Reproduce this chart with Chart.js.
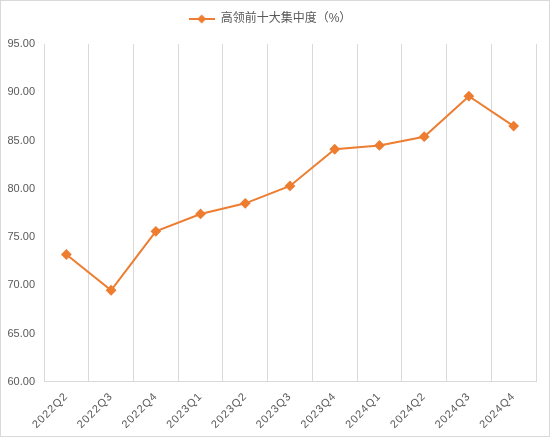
<!DOCTYPE html>
<html>
<head>
<meta charset="utf-8">
<script src="https://cdn.jsdelivr.net/npm/chart.js@4"></script>
<style>
  html, body { margin: 0; padding: 0; background: #fff; }
  #wrap { width: 548px; height: 435px; border: 1px solid #d9d9d9; }
</style>
</head>
<body>
<div id="wrap"><canvas id="c"></canvas></div>
<script>
var quarters = ['2022Q2', '2022Q3', '2022Q4', '2023Q1', '2023Q2', '2023Q3', '2023Q4', '2024Q1', '2024Q2', '2024Q3', '2024Q4'];
var concentration = [73.2, 69.5, 75.6, 77.4, 78.5, 80.3, 84.1, 84.5, 85.4, 89.6, 86.5];
var seriesName = '高领前十大集中度（%）';
var yMin = 60, yMax = 95, yStep = 5;

var orange = '#ED7D31';
var fontFamily = '"Liberation Sans", "Noto Sans CJK SC", sans-serif';

// legend icon: short line with a diamond in the middle
var icon = document.createElement('canvas');
icon.width = 26; icon.height = 12;
var ic = icon.getContext('2d');
ic.strokeStyle = orange; ic.lineWidth = 2;
ic.beginPath(); ic.moveTo(0, 6); ic.lineTo(26, 6); ic.stroke();
ic.fillStyle = orange;
ic.beginPath(); ic.moveTo(13, 1.5); ic.lineTo(17.5, 6); ic.lineTo(13, 10.5); ic.lineTo(8.5, 6); ic.closePath(); ic.fill();

// a bit more room under the legend, and spaced-out x labels
var tweaks = {
    id: 'tweaks',
    beforeInit: function (chart) {
        var fit = chart.legend.fit;
        chart.legend.fit = function () {
            fit.call(this);
            this.height += 9;
        };
    },
    afterUpdate: function (chart) {
        var xs = chart.scales.x;
        if (xs._spaced) return;
        xs._spaced = true;
        var draw = xs.drawLabels;
        xs.drawLabels = function (area) {
            var ctx = this.ctx;
            var prev = ctx.letterSpacing;
            ctx.letterSpacing = '1px';
            draw.call(this, area);
            ctx.letterSpacing = prev;
        };
    }
};

new Chart(document.getElementById('c').getContext('2d'), {
    type: 'line',
    data: {
        labels: quarters,
        datasets: [{
            label: seriesName,
            data: concentration,
            borderColor: orange,
            backgroundColor: orange,
            borderWidth: 2,
            pointStyle: 'rectRot',
            pointRadius: 4,
            pointBackgroundColor: orange,
            pointBorderColor: orange,
            tension: 0,
            fill: false
        }]
    },
    options: {
        responsive: true,
        maintainAspectRatio: false,
        animation: false,
        layout: { padding: { left: 3, right: 13, top: 0, bottom: 1 } },
        plugins: {
            legend: {
                position: 'top',
                labels: {
                    usePointStyle: true,
                    pointStyleWidth: 26,
                    font: { family: fontFamily, size: 12 },
                    color: '#595959',
                    padding: 12,
                    generateLabels: function (chart) {
                        return [{
                            text: seriesName,
                            pointStyle: icon,
                            fillStyle: orange,
                            strokeStyle: orange,
                            lineWidth: 0,
                            fontColor: '#595959',
                            datasetIndex: 0
                        }];
                    }
                }
            },
            tooltip: { enabled: false }
        },
        scales: {
            x: {
                offset: true,
                grid: { display: true, offset: true, color: '#d9d9d9', drawTicks: false },
                border: { display: true, color: '#d9d9d9' },
                afterFit: function (scale) { scale.paddingLeft = 0; },
                ticks: {
                    autoSkip: false,
                    maxRotation: 45,
                    minRotation: 45,
                    padding: 8,
                    color: '#595959',
                    font: { family: fontFamily, size: 11 }
                }
            },
            y: {
                min: yMin,
                max: yMax,
                grid: { display: false, drawTicks: false },
                border: { display: true, color: '#d9d9d9' },
                afterFit: function (scale) { scale.width = 40; },
                ticks: {
                    stepSize: yStep,
                    padding: 9,
                    color: '#595959',
                    font: { family: fontFamily, size: 11 },
                    callback: function (v) { return v.toFixed(2); }
                }
            }
        }
    },
    plugins: [tweaks]
});
</script>
</body>
</html>
